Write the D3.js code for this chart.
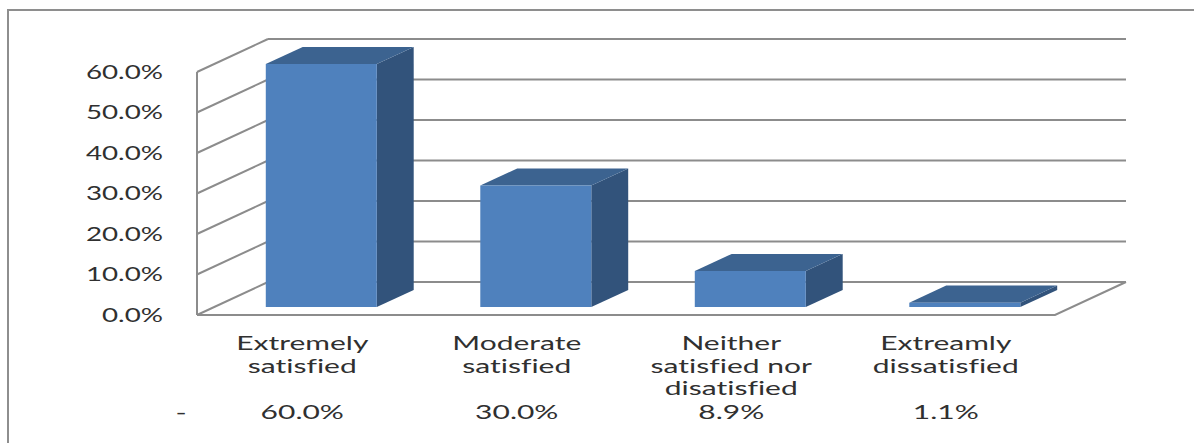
<!DOCTYPE html>
<html>
<head>
<meta charset="utf-8">
<script src="https://cdn.jsdelivr.net/npm/d3@7"></script>
<style>
  html, body { margin: 0; padding: 0; background: #ffffff; }
  svg { display: block; }
  text {
    font-family: Lato, "Open Sans", sans-serif;
    fill: #303030;
    font-variant-ligatures: none;
    font-feature-settings: "liga" 0, "clig" 0;
  }
</style>
</head>
<body>
<svg id="chart" width="1194" height="443"></svg>
<script>
// Survey responses: satisfaction level and share of respondents
const categories = [
  "Extremely satisfied",
  "Moderate satisfied",
  "Neither satisfied nor disatisfied",
  "Extreamly dissatisfied"
];
const values = [0.600, 0.300, 0.089, 0.011];
const yTicks = [0, 0.1, 0.2, 0.3, 0.4, 0.5, 0.6];
const tableRowLabel = "-";

const svg = d3.select("#chart");

// Plot frame (front plane) and 3D depth offset
const floorY = 315, topY = 72;
const plotLeft = 197, plotRight = 1055;
const depthDX = 71, depthDY = -33;
const barZ0 = 0.24, barZ1 = 0.76;   // depth span of each bar
const textSX = 1.5;                 // horizontal stretch of the labels

const x = d3.scaleBand()
  .domain(categories)
  .range([plotLeft, plotRight])
  .paddingInner(0.4825)
  .paddingOuter(0.24125);

const y = d3.scaleLinear().domain([0, 0.6]).range([floorY, topY]);

// project (screen x on front plane, value, depth 0..1) to screen
const P = (px, v, z) => [px + z * depthDX, y(v) + z * depthDY];
const poly = pts => "M" + pts.map(p => p.join(",")).join("L") + "Z";
const line = pts => "M" + pts.map(p => p.join(",")).join("L");

const fmt = d3.format(".1%");

// outer border
svg.append("rect")
  .attr("x", 8).attr("y", 10)
  .attr("width", 1220).attr("height", 500)
  .attr("fill", "none")
  .attr("stroke", "#8e8e8e")
  .attr("stroke-width", 2);

const grid = svg.append("g")
  .attr("fill", "none")
  .attr("stroke", "#8c8c8c")
  .attr("stroke-width", 2);

// back wall gridlines
yTicks.forEach(v => {
  grid.append("path").attr("d", line([P(plotLeft, v, 1), P(plotRight, v, 1)]));
});
// side wall lines
yTicks.forEach(v => {
  grid.append("path").attr("d", line([P(plotLeft, v, 0), P(plotLeft, v, 1)]));
});
// front vertical axis edge
grid.append("path").attr("d", line([P(plotLeft, 0, 0), P(plotLeft, 0.6, 0)]));
// floor front and right edges
grid.append("path").attr("d", line([P(plotLeft, 0, 0), P(plotRight, 0, 0), P(plotRight, 0, 1)]));

// y tick labels
svg.append("g").selectAll("text")
  .data(yTicks)
  .join("text")
  .attr("transform", d => `translate(163,${y(d)}) scale(${textSX},1)`)
  .attr("text-anchor", "end")
  .attr("dy", "0.36em")
  .attr("font-size", 18.5)
  .text(d => fmt(d));

// 3D bars
const bars = svg.append("g").selectAll("g")
  .data(categories.map((c, i) => ({ c, v: values[i] })))
  .join("g");

bars.each(function (d) {
  const g = d3.select(this);
  const x0 = x(d.c), x1 = x(d.c) + x.bandwidth();
  // right side face
  g.append("path")
    .attr("d", poly([P(x1, 0, barZ0), P(x1, 0, barZ1), P(x1, d.v, barZ1), P(x1, d.v, barZ0)]))
    .attr("fill", "#32537b");
  // top face
  g.append("path")
    .attr("d", poly([P(x0, d.v, barZ0), P(x1, d.v, barZ0), P(x1, d.v, barZ1), P(x0, d.v, barZ1)]))
    .attr("fill", "#3c6390");
  // front face
  g.append("path")
    .attr("d", poly([P(x0, 0, barZ0), P(x1, 0, barZ0), P(x1, d.v, barZ0), P(x0, d.v, barZ0)]))
    .attr("fill", "#4f81bd");
});

// category labels, wrapped into lines
const labelSize = 20, lineH = 22.5, firstBaseline = 350, valueBaseline = 419;
const maxLabelW = 190;

const measurer = svg.append("text").attr("font-size", labelSize).attr("visibility", "hidden");
function wrap(str) {
  const words = str.split(" ");
  const lines = [];
  let cur = "";
  words.forEach(w => {
    const test = cur ? cur + " " + w : w;
    measurer.text(test);
    if (cur && measurer.node().getComputedTextLength() * textSX > maxLabelW) {
      lines.push(cur);
      cur = w;
    } else {
      cur = test;
    }
  });
  if (cur) lines.push(cur);
  return lines;
}

const labels = svg.append("g").attr("font-size", labelSize);
categories.forEach(c => {
  const cx = x(c) + x.bandwidth() / 2 - 2;
  wrap(c).forEach((ln, j) => {
    labels.append("text")
      .attr("transform", `translate(${cx},${firstBaseline + j * lineH}) scale(${textSX},1)`)
      .attr("text-anchor", "middle")
      .text(ln);
  });
});
measurer.remove();

// data table row
const table = svg.append("g").attr("font-size", labelSize);
table.append("text")
  .attr("transform", `translate(181,${valueBaseline}) scale(${textSX},1)`)
  .attr("text-anchor", "middle")
  .text(tableRowLabel);
categories.forEach((c, i) => {
  table.append("text")
    .attr("transform", `translate(${x(c) + x.bandwidth() / 2 - 2},${valueBaseline}) scale(${textSX},1)`)
    .attr("text-anchor", "middle")
    .text(fmt(values[i]));
});
</script>
</body>
</html>
